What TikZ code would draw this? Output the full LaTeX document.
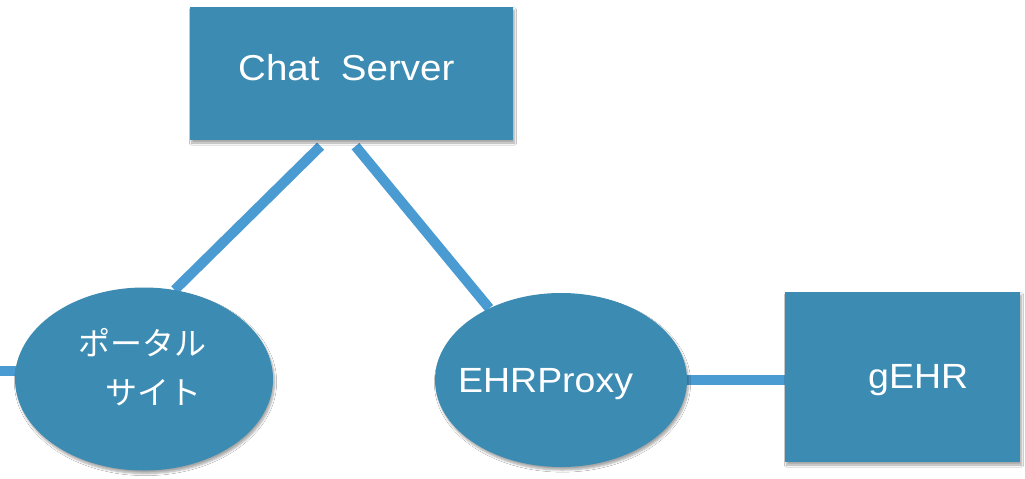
\documentclass[tikz,border=0pt]{standalone}
\usepackage{fontspec}
\setmainfont{Liberation Sans}[FakeStretch=1.07]
\newfontfamily\jpfont{Noto Sans CJK JP}
\usetikzlibrary{shapes.geometric,shadows.blur,backgrounds}
\definecolor{boxfill}{HTML}{3C8BB2}
\definecolor{linkblue}{HTML}{4A9BD2}
\tikzset{
  x=1pt,y=-1pt,
  shp/.style={fill=boxfill,draw=none,inner sep=0pt,
    blur shadow={shadow xshift=1.5pt,shadow yshift=-3pt,shadow blur steps=6,shadow opacity=35}},
  boxshape/.style={shp,rectangle},
  ovalshape/.style={shp,ellipse},
  label/.style={text=white,inner sep=0pt,anchor=base west,font=\fontsize{35}{42}\selectfont},
  jplabel/.style={text=white,inner sep=0pt,anchor=base west,font=\jpfont\fontsize{32}{40}\selectfont},
  link/.style={draw=linkblue,line width=10pt}
}
\begin{document}
\begin{tikzpicture}
\useasboundingbox (0,0) rectangle (1025,479);
% shapes
\node[boxshape,minimum width=323pt,minimum height=133pt] (cs) at (351.5,73.5) {};
\node[ovalshape,minimum width=258pt,minimum height=183pt] (portal) at (144,379) {};
\node[ovalshape,minimum width=252pt,minimum height=174pt] (ehr) at (561,380) {};
\node[boxshape,minimum width=235pt,minimum height=170pt] (gehr) at (902.5,377) {};
\coordinate (stub) at (0,371);
% texts
\node[label,font=\fontsize{36}{42}\selectfont] (cst) at (238,80) {Chat\ \ Server};
\node[jplabel] (pt1) at (78,355) {ポータル};
\node[jplabel] (pt2) at (105,404) {サイト};
\node[label] (ehrt) at (458,392) {EHRProxy};
\node[label] (gehrt) at (868,388) {gEHR};
% connectors
\begin{scope}[on background layer]
\fill[white] (0,0) rectangle (1025,479);
\draw[link] ([xshift=-31pt,yshift=-6pt]cs.south) -- (portal.71);
\draw[link] ([xshift=4pt,yshift=-6pt]cs.south) -- (ehr.135);
\draw[link] ([xshift=-8pt]ehr.east) -- ([xshift=8pt]ehr.east -| gehr.west);
\draw[link] (stub) -- (stub -| portal.center);
\end{scope}
\end{tikzpicture}
\end{document}
